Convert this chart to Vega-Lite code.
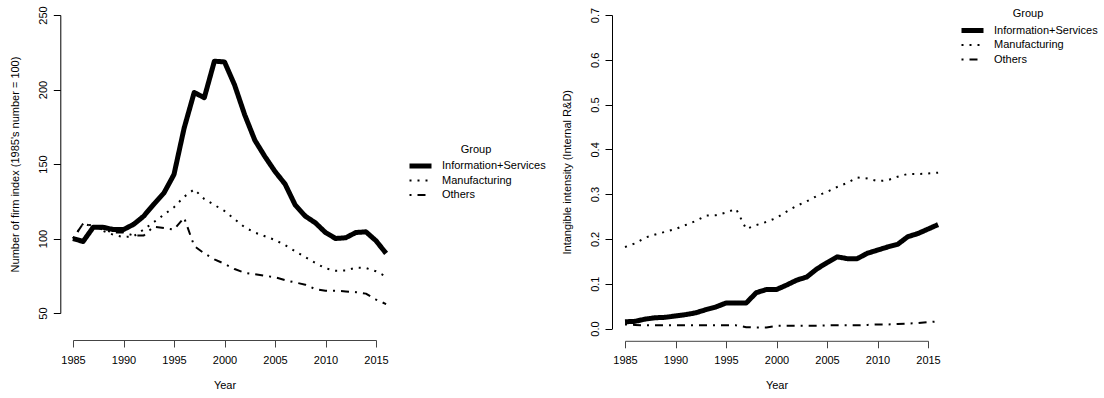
{
  "$schema": "https://vega.github.io/schema/vega-lite/v6.json",
  "background": "white",
  "padding": {"left": 9, "top": 5, "right": 5, "bottom": 5},
  "config": {
    "font": "Liberation Sans",
    "view": {"stroke": null},
    "axis": {
      "grid": false,
      "domainColor": "black",
      "tickColor": "black",
      "tickSize": 7,
      "labelFont": "Liberation Sans",
      "labelFontSize": 11,
      "labelColor": "black",
      "labelFlush": false,
      "labelOverlap": false,
      "titleFont": "Liberation Sans",
      "titleFontSize": 11,
      "titleFontWeight": "normal",
      "titleColor": "black"
    },
    "axisX": {"labelPadding": 7, "titlePadding": 14, "domainColor": "#444", "tickColor": "#444"},
    "axisY": {"labelAngle": -90, "labelAlign": "center", "labelBaseline": "alphabetic", "labelPadding": 7, "titlePadding": 17},
    "legend": {
      "orient": "none",
      "symbolType": "stroke",
      "symbolSize": 484,
      "titleAnchor": "middle",
      "titleFont": "Liberation Sans",
      "titleFontWeight": "normal",
      "titleFontSize": 11,
      "titleColor": "black",
      "labelFont": "Liberation Sans",
      "labelFontSize": 11,
      "labelColor": "black",
      "titlePadding": 6,
      "clipHeight": 11,
      "rowPadding": 2.5,
      "labelOffset": 8,
      "padding": 0
    }
  },
  "datasets": {
    "firms": [
      {"year": 1985, "group": "Information+Services", "value": 100},
      {"year": 1986, "group": "Information+Services", "value": 98},
      {"year": 1987, "group": "Information+Services", "value": 107.5},
      {"year": 1988, "group": "Information+Services", "value": 107.5},
      {"year": 1989, "group": "Information+Services", "value": 106},
      {"year": 1990, "group": "Information+Services", "value": 106},
      {"year": 1991, "group": "Information+Services", "value": 109.5},
      {"year": 1992, "group": "Information+Services", "value": 115},
      {"year": 1993, "group": "Information+Services", "value": 123},
      {"year": 1994, "group": "Information+Services", "value": 130.5},
      {"year": 1995, "group": "Information+Services", "value": 143},
      {"year": 1996, "group": "Information+Services", "value": 174},
      {"year": 1997, "group": "Information+Services", "value": 198},
      {"year": 1998, "group": "Information+Services", "value": 194.5},
      {"year": 1999, "group": "Information+Services", "value": 219},
      {"year": 2000, "group": "Information+Services", "value": 218.5},
      {"year": 2001, "group": "Information+Services", "value": 203},
      {"year": 2002, "group": "Information+Services", "value": 183},
      {"year": 2003, "group": "Information+Services", "value": 166},
      {"year": 2004, "group": "Information+Services", "value": 155},
      {"year": 2005, "group": "Information+Services", "value": 145},
      {"year": 2006, "group": "Information+Services", "value": 136.5},
      {"year": 2007, "group": "Information+Services", "value": 122.5},
      {"year": 2008, "group": "Information+Services", "value": 115},
      {"year": 2009, "group": "Information+Services", "value": 110.5},
      {"year": 2010, "group": "Information+Services", "value": 104},
      {"year": 2011, "group": "Information+Services", "value": 100},
      {"year": 2012, "group": "Information+Services", "value": 100.5},
      {"year": 2013, "group": "Information+Services", "value": 104},
      {"year": 2014, "group": "Information+Services", "value": 104.5},
      {"year": 2015, "group": "Information+Services", "value": 98.5},
      {"year": 2016, "group": "Information+Services", "value": 90},
      {"year": 1985, "group": "Manufacturing", "value": 100},
      {"year": 1986, "group": "Manufacturing", "value": 110},
      {"year": 1987, "group": "Manufacturing", "value": 108.5},
      {"year": 1988, "group": "Manufacturing", "value": 105},
      {"year": 1989, "group": "Manufacturing", "value": 102.5},
      {"year": 1990, "group": "Manufacturing", "value": 101},
      {"year": 1991, "group": "Manufacturing", "value": 101.5},
      {"year": 1992, "group": "Manufacturing", "value": 106},
      {"year": 1993, "group": "Manufacturing", "value": 111},
      {"year": 1994, "group": "Manufacturing", "value": 116},
      {"year": 1995, "group": "Manufacturing", "value": 121},
      {"year": 1996, "group": "Manufacturing", "value": 128},
      {"year": 1997, "group": "Manufacturing", "value": 133},
      {"year": 1998, "group": "Manufacturing", "value": 126.5},
      {"year": 1999, "group": "Manufacturing", "value": 122.5},
      {"year": 2000, "group": "Manufacturing", "value": 118.5},
      {"year": 2001, "group": "Manufacturing", "value": 113},
      {"year": 2002, "group": "Manufacturing", "value": 107.5},
      {"year": 2003, "group": "Manufacturing", "value": 104},
      {"year": 2004, "group": "Manufacturing", "value": 101.5},
      {"year": 2005, "group": "Manufacturing", "value": 99},
      {"year": 2006, "group": "Manufacturing", "value": 95.5},
      {"year": 2007, "group": "Manufacturing", "value": 91.5},
      {"year": 2008, "group": "Manufacturing", "value": 87.5},
      {"year": 2009, "group": "Manufacturing", "value": 83.5},
      {"year": 2010, "group": "Manufacturing", "value": 80},
      {"year": 2011, "group": "Manufacturing", "value": 78.4},
      {"year": 2012, "group": "Manufacturing", "value": 78.5},
      {"year": 2013, "group": "Manufacturing", "value": 80.5},
      {"year": 2014, "group": "Manufacturing", "value": 80.2},
      {"year": 2015, "group": "Manufacturing", "value": 78},
      {"year": 2016, "group": "Manufacturing", "value": 74.5},
      {"year": 1985, "group": "Others", "value": 100},
      {"year": 1986, "group": "Others", "value": 110},
      {"year": 1987, "group": "Others", "value": 108},
      {"year": 1988, "group": "Others", "value": 106},
      {"year": 1989, "group": "Others", "value": 104},
      {"year": 1990, "group": "Others", "value": 104},
      {"year": 1991, "group": "Others", "value": 102},
      {"year": 1992, "group": "Others", "value": 102},
      {"year": 1993, "group": "Others", "value": 108},
      {"year": 1994, "group": "Others", "value": 107},
      {"year": 1995, "group": "Others", "value": 106},
      {"year": 1996, "group": "Others", "value": 114},
      {"year": 1997, "group": "Others", "value": 95},
      {"year": 1998, "group": "Others", "value": 90},
      {"year": 1999, "group": "Others", "value": 86},
      {"year": 2000, "group": "Others", "value": 83},
      {"year": 2001, "group": "Others", "value": 79.5},
      {"year": 2002, "group": "Others", "value": 77},
      {"year": 2003, "group": "Others", "value": 76},
      {"year": 2004, "group": "Others", "value": 75},
      {"year": 2005, "group": "Others", "value": 74},
      {"year": 2006, "group": "Others", "value": 72},
      {"year": 2007, "group": "Others", "value": 70.5},
      {"year": 2008, "group": "Others", "value": 69},
      {"year": 2009, "group": "Others", "value": 66},
      {"year": 2010, "group": "Others", "value": 65},
      {"year": 2011, "group": "Others", "value": 65},
      {"year": 2012, "group": "Others", "value": 64.5},
      {"year": 2013, "group": "Others", "value": 64},
      {"year": 2014, "group": "Others", "value": 63},
      {"year": 2015, "group": "Others", "value": 59},
      {"year": 2016, "group": "Others", "value": 56}
    ],
    "intens": [
      {"year": 1985, "group": "Information+Services", "value": 0.015},
      {"year": 1986, "group": "Information+Services", "value": 0.016},
      {"year": 1987, "group": "Information+Services", "value": 0.021},
      {"year": 1988, "group": "Information+Services", "value": 0.024},
      {"year": 1989, "group": "Information+Services", "value": 0.025},
      {"year": 1990, "group": "Information+Services", "value": 0.028},
      {"year": 1991, "group": "Information+Services", "value": 0.031},
      {"year": 1992, "group": "Information+Services", "value": 0.035},
      {"year": 1993, "group": "Information+Services", "value": 0.042},
      {"year": 1994, "group": "Information+Services", "value": 0.048},
      {"year": 1995, "group": "Information+Services", "value": 0.057},
      {"year": 1996, "group": "Information+Services", "value": 0.057},
      {"year": 1997, "group": "Information+Services", "value": 0.057},
      {"year": 1998, "group": "Information+Services", "value": 0.080},
      {"year": 1999, "group": "Information+Services", "value": 0.087},
      {"year": 2000, "group": "Information+Services", "value": 0.087},
      {"year": 2001, "group": "Information+Services", "value": 0.097},
      {"year": 2002, "group": "Information+Services", "value": 0.108},
      {"year": 2003, "group": "Information+Services", "value": 0.115},
      {"year": 2004, "group": "Information+Services", "value": 0.133},
      {"year": 2005, "group": "Information+Services", "value": 0.147},
      {"year": 2006, "group": "Information+Services", "value": 0.160},
      {"year": 2007, "group": "Information+Services", "value": 0.156},
      {"year": 2008, "group": "Information+Services", "value": 0.156},
      {"year": 2009, "group": "Information+Services", "value": 0.168},
      {"year": 2010, "group": "Information+Services", "value": 0.175},
      {"year": 2011, "group": "Information+Services", "value": 0.182},
      {"year": 2012, "group": "Information+Services", "value": 0.188},
      {"year": 2013, "group": "Information+Services", "value": 0.205},
      {"year": 2014, "group": "Information+Services", "value": 0.212},
      {"year": 2015, "group": "Information+Services", "value": 0.222},
      {"year": 2016, "group": "Information+Services", "value": 0.232},
      {"year": 1985, "group": "Manufacturing", "value": 0.182},
      {"year": 1986, "group": "Manufacturing", "value": 0.190},
      {"year": 1987, "group": "Manufacturing", "value": 0.203},
      {"year": 1988, "group": "Manufacturing", "value": 0.210},
      {"year": 1989, "group": "Manufacturing", "value": 0.216},
      {"year": 1990, "group": "Manufacturing", "value": 0.222},
      {"year": 1991, "group": "Manufacturing", "value": 0.231},
      {"year": 1992, "group": "Manufacturing", "value": 0.240},
      {"year": 1993, "group": "Manufacturing", "value": 0.252},
      {"year": 1994, "group": "Manufacturing", "value": 0.253},
      {"year": 1995, "group": "Manufacturing", "value": 0.259},
      {"year": 1996, "group": "Manufacturing", "value": 0.267},
      {"year": 1997, "group": "Manufacturing", "value": 0.222},
      {"year": 1998, "group": "Manufacturing", "value": 0.231},
      {"year": 1999, "group": "Manufacturing", "value": 0.238},
      {"year": 2000, "group": "Manufacturing", "value": 0.247},
      {"year": 2001, "group": "Manufacturing", "value": 0.261},
      {"year": 2002, "group": "Manufacturing", "value": 0.274},
      {"year": 2003, "group": "Manufacturing", "value": 0.284},
      {"year": 2004, "group": "Manufacturing", "value": 0.296},
      {"year": 2005, "group": "Manufacturing", "value": 0.305},
      {"year": 2006, "group": "Manufacturing", "value": 0.316},
      {"year": 2007, "group": "Manufacturing", "value": 0.325},
      {"year": 2008, "group": "Manufacturing", "value": 0.337},
      {"year": 2009, "group": "Manufacturing", "value": 0.335},
      {"year": 2010, "group": "Manufacturing", "value": 0.329},
      {"year": 2011, "group": "Manufacturing", "value": 0.331},
      {"year": 2012, "group": "Manufacturing", "value": 0.339},
      {"year": 2013, "group": "Manufacturing", "value": 0.345},
      {"year": 2014, "group": "Manufacturing", "value": 0.345},
      {"year": 2015, "group": "Manufacturing", "value": 0.346},
      {"year": 2016, "group": "Manufacturing", "value": 0.348},
      {"year": 1985, "group": "Others", "value": 0.009},
      {"year": 1986, "group": "Others", "value": 0.008},
      {"year": 1987, "group": "Others", "value": 0.007},
      {"year": 1988, "group": "Others", "value": 0.007},
      {"year": 1989, "group": "Others", "value": 0.007},
      {"year": 1990, "group": "Others", "value": 0.007},
      {"year": 1991, "group": "Others", "value": 0.007},
      {"year": 1992, "group": "Others", "value": 0.007},
      {"year": 1993, "group": "Others", "value": 0.007},
      {"year": 1994, "group": "Others", "value": 0.007},
      {"year": 1995, "group": "Others", "value": 0.007},
      {"year": 1996, "group": "Others", "value": 0.007},
      {"year": 1997, "group": "Others", "value": 0.003},
      {"year": 1998, "group": "Others", "value": 0.002},
      {"year": 1999, "group": "Others", "value": 0.002},
      {"year": 2000, "group": "Others", "value": 0.006},
      {"year": 2001, "group": "Others", "value": 0.006},
      {"year": 2002, "group": "Others", "value": 0.006},
      {"year": 2003, "group": "Others", "value": 0.006},
      {"year": 2004, "group": "Others", "value": 0.006},
      {"year": 2005, "group": "Others", "value": 0.007},
      {"year": 2006, "group": "Others", "value": 0.007},
      {"year": 2007, "group": "Others", "value": 0.007},
      {"year": 2008, "group": "Others", "value": 0.007},
      {"year": 2009, "group": "Others", "value": 0.008},
      {"year": 2010, "group": "Others", "value": 0.009},
      {"year": 2011, "group": "Others", "value": 0.009},
      {"year": 2012, "group": "Others", "value": 0.010},
      {"year": 2013, "group": "Others", "value": 0.011},
      {"year": 2014, "group": "Others", "value": 0.012},
      {"year": 2015, "group": "Others", "value": 0.014},
      {"year": 2016, "group": "Others", "value": 0.016}
    ]
  },
  "bounds": "flush",
  "spacing": 249,
  "resolve": {
    "scale": {"color": "independent", "strokeDash": "independent", "strokeWidth": "independent", "x": "independent", "y": "independent"},
    "legend": {"color": "independent", "strokeDash": "independent", "strokeWidth": "independent"}
  },
  "hconcat": [
    {
      "width": 303,
      "height": 298,
      "data": {"name": "firms"},
      "mark": {"type": "line", "strokeJoin": "round", "clip": false},
      "encoding": {
        "x": {"field": "year", "type": "quantitative",
          "scale": {"domain": [1985, 2015], "nice": false, "zero": false},
          "axis": {"values": [1985, 1990, 1995, 2000, 2005, 2010, 2015], "format": "d", "title": "Year", "offset": 27}},
        "y": {"field": "value", "type": "quantitative",
          "scale": {"domain": [50, 250], "nice": false, "zero": false},
          "axis": {"values": [50, 100, 150, 200, 250], "format": "d", "title": "Number of firm index (1985's number = 100)", "offset": 12.7}},
        "color": {"field": "group", "type": "nominal",
          "scale": {"domain": ["Information+Services", "Manufacturing", "Others"], "range": ["black", "black", "black"]},
          "legend": {"title": "Group", "legendX": 334, "legendY": 128.5}},
        "strokeDash": {"field": "group", "type": "nominal",
          "scale": {"domain": ["Information+Services", "Manufacturing", "Others"], "range": [[1, 0], [2, 6], [2, 6, 8, 6]]},
          "legend": {"title": "Group", "legendX": 334, "legendY": 128.5}},
        "strokeWidth": {"field": "group", "type": "nominal",
          "scale": {"type": "ordinal", "domain": ["Information+Services", "Manufacturing", "Others"], "range": [5, 2, 2]},
          "legend": {"title": "Group", "legendX": 334, "legendY": 128.5}}
      }
    },
    {
      "width": 303,
      "height": 313.5,
      "data": {"name": "intens"},
      "mark": {"type": "line", "strokeJoin": "round", "clip": false},
      "encoding": {
        "x": {"field": "year", "type": "quantitative",
          "scale": {"domain": [1985, 2015], "nice": false, "zero": false},
          "axis": {"values": [1985, 1990, 1995, 2000, 2005, 2010, 2015], "format": "d", "title": "Year", "offset": 12.3}},
        "y": {"field": "value", "type": "quantitative",
          "scale": {"domain": [0, 0.7], "nice": false, "zero": false},
          "axis": {"values": [0, 0.1, 0.2, 0.3, 0.4, 0.5, 0.6, 0.7], "format": ".1f", "title": "Intangible intensity (Internal R&D)", "offset": 13}},
        "color": {"field": "group", "type": "nominal",
          "scale": {"domain": ["Information+Services", "Manufacturing", "Others"], "range": ["black", "black", "black"]},
          "legend": {"title": "Group", "legendX": 334, "legendY": -7}},
        "strokeDash": {"field": "group", "type": "nominal",
          "scale": {"domain": ["Information+Services", "Manufacturing", "Others"], "range": [[1, 0], [2, 6], [2, 6, 8, 6]]},
          "legend": {"title": "Group", "legendX": 334, "legendY": -7}},
        "strokeWidth": {"field": "group", "type": "nominal",
          "scale": {"type": "ordinal", "domain": ["Information+Services", "Manufacturing", "Others"], "range": [5, 2, 2]},
          "legend": {"title": "Group", "legendX": 334, "legendY": -7}}
      }
    }
  ]
}
